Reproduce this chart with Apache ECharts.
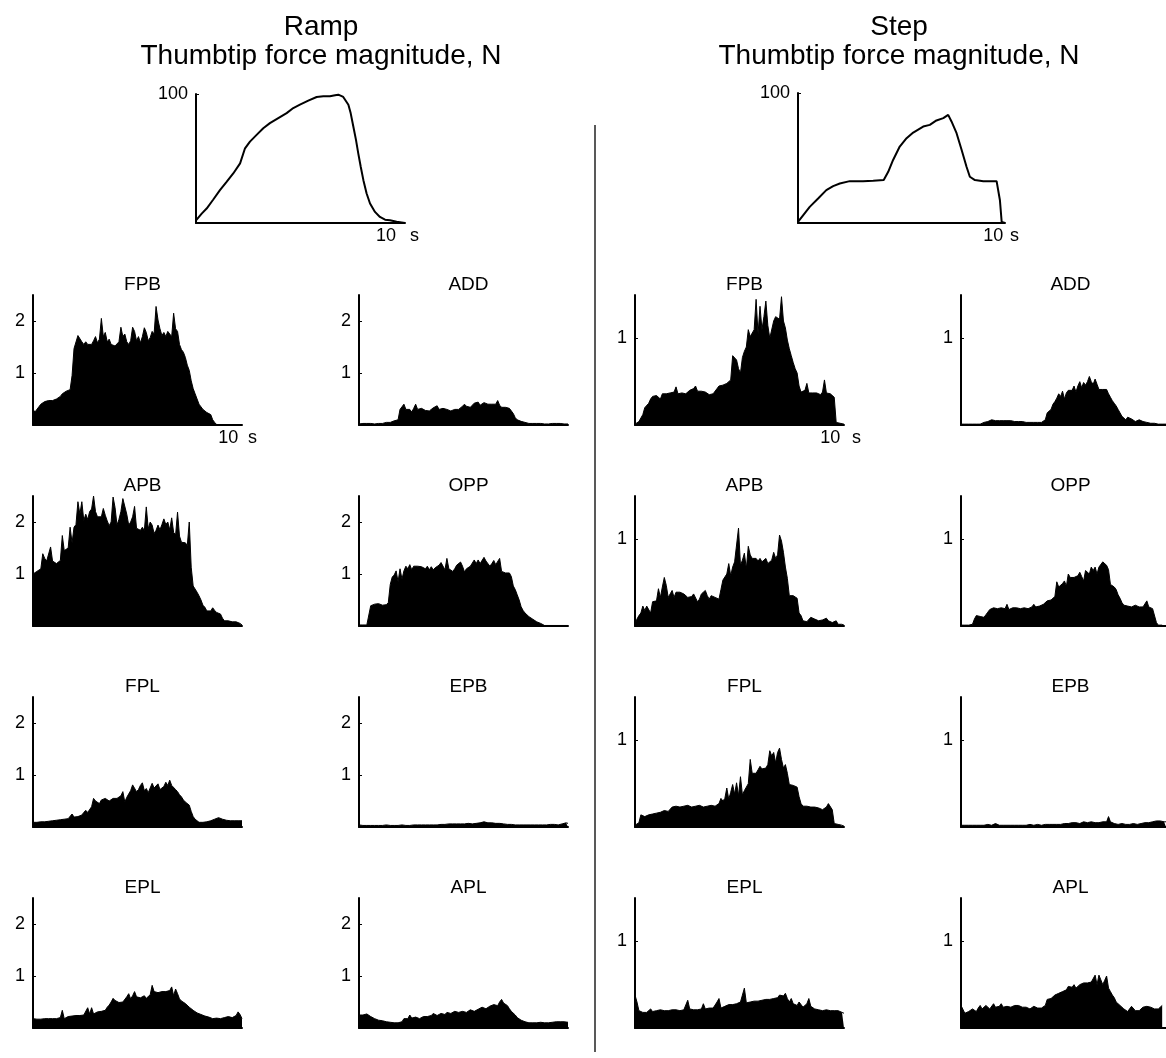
<!DOCTYPE html>
<html>
<head>
<meta charset="utf-8">
<script src="https://cdn.jsdelivr.net/npm/echarts@6/dist/echarts.min.js"></script>
<style>
  html, body { margin: 0; padding: 0; background: #fff; }
  #chart { width: 1166px; height: 1058px; }
</style>
</head>
<body>
<div id="chart"></div>
<script>
// sample step of the EMG traces, s
const DT = 0.1;

// thumbtip force, N (time in s)
const rampForceT = [0, 0.3, 0.56, 0.91, 1.26, 1.61, 1.96, 2.32, 2.58, 2.84, 3.19, 3.54, 3.89, 4.33, 4.77, 5.12, 5.47, 5.91, 6.35, 6.7, 7.05, 7.32, 7.49, 7.75, 8.02, 8.14, 8.28, 8.42, 8.54, 8.67, 8.81, 8.98, 9.16, 9.42, 9.68, 9.95, 10.21, 10.56, 11];
const rampForceN = [2.1, 7.3, 11.2, 18.2, 25.5, 31.9, 38.4, 46.2, 57.9, 63.1, 68.3, 73.5, 77.4, 81.3, 85.2, 89.1, 91.7, 94.8, 97.7, 98.2, 98.2, 99, 99.5, 97.7, 91.7, 85.2, 74.8, 64.4, 54, 43.6, 33.2, 22.9, 15.1, 8.6, 4.7, 2.6, 2.1, 1, 0];
const stepForceT = [0, 0.26, 0.6, 1.03, 1.45, 1.8, 2.14, 2.65, 3.33, 3.85, 4.39, 4.62, 4.87, 5.21, 5.56, 5.9, 6.41, 6.75, 7.09, 7.44, 7.69, 7.86, 8.12, 8.38, 8.63, 8.8, 9.06, 9.49, 10.17, 10.26, 10.34, 10.43, 10.6];
const stepForceN = [0.8, 5.9, 12.4, 18.8, 25.3, 28.4, 30.4, 32.2, 32.2, 32.5, 33, 39.4, 48.5, 58.8, 65.2, 69.6, 74.2, 75.5, 78.9, 80.7, 83.2, 78.1, 69.1, 56.2, 43.3, 35.6, 33, 32.2, 32.2, 30.9, 17.5, 0.8, 0];

// rectified EMG, one value every DT seconds from t = 0
const rampFPB = [
  0.3, 0.25, 0.28, 0.35, 0.4, 0.42, 0.45, 0.42, 0.47, 0.45,
  0.47, 0.45, 0.5, 0.48, 0.55, 0.6, 0.62, 0.65, 0.66, 0.68,
  0.95, 1.47, 1.5, 1.72, 1.7, 1.6, 1.55, 1.6, 1.55, 1.58,
  1.55, 1.62, 1.7, 1.58, 1.65, 2.05, 1.7, 1.78, 1.6, 1.65,
  1.55, 1.58, 1.52, 1.55, 1.6, 1.88, 1.7, 1.75, 1.6, 1.55,
  1.62, 1.88, 1.8, 1.62, 1.7, 1.58, 1.7, 1.87, 1.78, 1.62,
  1.68, 1.8, 1.75, 2.28, 2.02, 1.85, 1.72, 1.78, 1.7, 1.8,
  1.75, 1.7, 2.15, 1.85, 1.8, 1.55, 1.45, 1.4, 1.3, 1.15,
  1.05, 0.85, 0.7, 0.6, 0.5, 0.4, 0.38, 0.3, 0.28, 0.24,
  0.22, 0.2, 0.1, 0.05, 0.01
];
const rampADD = [
  0.02, 0.02, 0.03, 0.02, 0.03, 0.02, 0.03, 0.03, 0.02, 0.03,
  0.03, 0.04, 0.03, 0.04, 0.05, 0.04, 0.05, 0.06, 0.08, 0.07,
  0.1, 0.3, 0.35, 0.4, 0.3, 0.27, 0.3, 0.25, 0.32, 0.4,
  0.3, 0.27, 0.32, 0.3, 0.28, 0.3, 0.27, 0.3, 0.33, 0.3,
  0.37, 0.3, 0.28, 0.32, 0.35, 0.3, 0.33, 0.27, 0.28, 0.3,
  0.3, 0.3, 0.32, 0.36, 0.4, 0.36, 0.38, 0.34, 0.38, 0.42,
  0.4, 0.44, 0.38, 0.4, 0.43, 0.46, 0.4, 0.42, 0.4, 0.42,
  0.4, 0.47, 0.38, 0.34, 0.35, 0.34, 0.32, 0.32, 0.3, 0.22,
  0.14, 0.1, 0.08, 0.07, 0.06, 0.05, 0.04, 0.03, 0.03, 0.03,
  0.02, 0.03, 0.02, 0.03, 0.03, 0.02, 0.03, 0.02, 0.03, 0.03,
  0.02, 0.03, 0.02, 0.03, 0.03, 0.02, 0.03, 0.02
];
const rampAPB = [
  1.0, 1.03, 1.05, 1.08, 1.1, 1.39, 1.3, 1.25, 1.28, 1.52,
  1.25, 1.23, 1.2, 1.22, 1.26, 1.74, 1.45, 1.42, 1.5, 1.9,
  1.6, 1.9, 1.95, 2.39, 2.15, 2.39, 2.03, 2.15, 2.05, 2.2,
  2.25, 2.5, 2.2, 2.1, 2.13, 2.1, 2.26, 2.13, 2.02, 1.93,
  2.0, 2.48, 2.28, 1.94, 2.05, 2.2, 2.45, 2.48, 2.15, 1.94,
  2.0, 2.1, 2.3, 1.88, 1.9, 1.84, 1.9, 1.83, 2.29, 1.87,
  2.0, 1.94, 1.78, 1.84, 1.94, 1.85, 1.95, 2.06, 1.95, 2.0,
  1.85, 2.08, 1.8, 1.75, 2.19, 1.73, 1.61, 1.58, 1.6, 1.55,
  2.0, 1.13, 0.77, 0.75, 0.65, 0.58, 0.5, 0.4, 0.36, 0.29,
  0.3, 0.29, 0.35, 0.3, 0.26, 0.29, 0.23, 0.15, 0.1, 0.1,
  0.1, 0.09, 0.08, 0.06, 0.08, 0.06, 0.05, 0.02
];
const rampOPP = [
  0.02, 0.02, 0.02, 0.02, 0.02, 0.03, 0.39, 0.4, 0.42, 0.4,
  0.43, 0.41, 0.4, 0.42, 0.41, 0.45, 0.8, 0.94, 0.98, 1.06,
  0.85, 1.1, 0.9, 1.06, 1.15, 1.1, 1.18, 1.08, 1.15, 1.12,
  1.15, 1.17, 1.14, 1.13, 1.1, 1.15, 1.08, 1.14, 1.08, 1.12,
  1.15, 1.17, 1.22, 1.2, 1.08, 1.3, 1.1, 1.12, 1.05, 1.1,
  1.17, 1.2, 1.23, 1.15, 1.04, 1.1, 1.12, 1.15, 1.18, 1.27,
  1.2, 1.27, 1.2, 1.22, 1.32, 1.25, 1.23, 1.15, 1.2, 1.26,
  1.18, 1.15, 1.3, 1.05, 1.03, 1.02, 1.03, 1.02, 0.95, 0.77,
  0.7, 0.6, 0.5, 0.37, 0.3, 0.25, 0.23, 0.18, 0.15, 0.13,
  0.12, 0.08, 0.1, 0.05, 0.03, 0.01, 0.01, 0.01, 0.01, 0.01,
  0.01, 0.01, 0.01, 0.01, 0.01, 0.01, 0.01, 0.01
];
const rampFPL = [
  0.09, 0.08, 0.09, 0.09, 0.1, 0.09, 0.1, 0.1, 0.11, 0.11,
  0.12, 0.12, 0.13, 0.13, 0.14, 0.14, 0.15, 0.15, 0.16, 0.18,
  0.25, 0.19, 0.19, 0.2, 0.22, 0.23, 0.28, 0.32, 0.28, 0.3,
  0.39, 0.55, 0.5, 0.47, 0.45, 0.52, 0.5, 0.55, 0.52, 0.5,
  0.52, 0.55, 0.53, 0.55, 0.58, 0.6, 0.68, 0.48, 0.57, 0.6,
  0.7, 0.81, 0.84, 0.68, 0.72, 0.8, 0.85, 0.7, 0.74, 0.66,
  0.75, 0.84, 0.75, 0.78, 0.83, 0.72, 0.7, 0.78, 0.86, 0.8,
  0.9, 0.8, 0.77, 0.72, 0.68, 0.62, 0.58, 0.52, 0.48, 0.45,
  0.42, 0.3, 0.2, 0.15, 0.12, 0.09, 0.08, 0.09, 0.1, 0.1,
  0.1, 0.12, 0.13, 0.15, 0.16, 0.18, 0.18, 0.15, 0.14, 0.13,
  0.13, 0.12, 0.12, 0.12, 0.12, 0.12, 0.12, 0.12
];
const rampEPB = [
  0.04, 0.03, 0.03, 0.03, 0.03, 0.04, 0.03, 0.03, 0.03, 0.03,
  0.03, 0.03, 0.03, 0.03, 0.04, 0.03, 0.03, 0.03, 0.03, 0.03,
  0.03, 0.03, 0.04, 0.03, 0.03, 0.03, 0.03, 0.03, 0.04, 0.03,
  0.04, 0.04, 0.04, 0.04, 0.04, 0.05, 0.04, 0.04, 0.04, 0.04,
  0.04, 0.05, 0.05, 0.04, 0.05, 0.05, 0.06, 0.05, 0.06, 0.06,
  0.06, 0.06, 0.06, 0.07, 0.06, 0.06, 0.07, 0.06, 0.06, 0.07,
  0.07, 0.07, 0.08, 0.07, 0.1, 0.08, 0.08, 0.09, 0.08, 0.08,
  0.07, 0.08, 0.07, 0.06, 0.06, 0.06, 0.05, 0.05, 0.05, 0.05,
  0.04, 0.04, 0.04, 0.04, 0.04, 0.04, 0.04, 0.04, 0.04, 0.04,
  0.04, 0.04, 0.04, 0.04, 0.04, 0.05, 0.04, 0.04, 0.05, 0.04,
  0.05, 0.05, 0.04, 0.05, 0.06, 0.06, 0.08, 0.07
];
const rampEPL = [
  0.18, 0.17, 0.17, 0.18, 0.17, 0.19, 0.18, 0.17, 0.18, 0.17,
  0.18, 0.19, 0.18, 0.19, 0.2, 0.34, 0.18, 0.2, 0.22, 0.21,
  0.23, 0.22, 0.24, 0.25, 0.24, 0.26, 0.25, 0.28, 0.39, 0.27,
  0.39, 0.27, 0.3, 0.31, 0.3, 0.32, 0.33, 0.34, 0.4, 0.44,
  0.5, 0.57, 0.53, 0.5, 0.49, 0.47, 0.5, 0.52, 0.6, 0.66,
  0.56, 0.62, 0.7, 0.6, 0.63, 0.58, 0.6, 0.62, 0.57, 0.6,
  0.64, 0.82, 0.7, 0.69, 0.68, 0.7, 0.7, 0.71, 0.7, 0.69,
  0.72, 0.79, 0.62, 0.75, 0.66, 0.56, 0.52, 0.5, 0.47, 0.44,
  0.4, 0.37, 0.34, 0.31, 0.29, 0.28, 0.26, 0.25, 0.23, 0.2,
  0.21, 0.2, 0.18, 0.18, 0.19, 0.18, 0.18, 0.19, 0.2, 0.21,
  0.22, 0.24, 0.2, 0.18, 0.24, 0.31, 0.26, 0.18
];
const rampAPL = [
  0.25, 0.24, 0.25, 0.24, 0.27, 0.26, 0.22, 0.2, 0.18, 0.17,
  0.15, 0.14, 0.14, 0.13, 0.12, 0.11, 0.11, 0.1, 0.1, 0.1,
  0.1, 0.11, 0.12, 0.18, 0.15, 0.18, 0.25, 0.19, 0.2, 0.21,
  0.2, 0.18, 0.2, 0.22, 0.24, 0.22, 0.21, 0.24, 0.28, 0.25,
  0.24, 0.27, 0.28, 0.25, 0.26, 0.3, 0.31, 0.28, 0.29, 0.32,
  0.34, 0.3, 0.29, 0.32, 0.33, 0.3, 0.31, 0.35, 0.37, 0.32,
  0.33, 0.36, 0.38, 0.4, 0.39, 0.37, 0.4, 0.42, 0.44, 0.45,
  0.44, 0.43, 0.5, 0.55, 0.48, 0.46, 0.43, 0.37, 0.32, 0.3,
  0.25, 0.2, 0.17, 0.15, 0.13, 0.12, 0.11, 0.1, 0.1, 0.1,
  0.1, 0.1, 0.1, 0.11, 0.1, 0.1, 0.11, 0.1, 0.11, 0.11,
  0.12, 0.12, 0.11, 0.12, 0.12, 0.12, 0.13, 0.11
];

const stepFPB = [
  0.01, 0.02, 0.04, 0.06, 0.12, 0.2, 0.22, 0.25, 0.3, 0.33,
  0.32, 0.34, 0.33, 0.3, 0.36, 0.37, 0.36, 0.35, 0.37, 0.36,
  0.38, 0.44, 0.36, 0.38, 0.37, 0.39, 0.36, 0.38, 0.4, 0.38,
  0.42, 0.45, 0.39, 0.38, 0.39, 0.4, 0.38, 0.36, 0.35, 0.34,
  0.36, 0.38, 0.42, 0.45, 0.44, 0.46, 0.44, 0.48, 0.5, 0.52,
  0.8, 0.78, 0.75, 0.65, 0.6, 0.78, 0.85, 0.9, 1.1, 1.02,
  1.0, 1.1, 1.45, 1.05, 1.37, 1.1, 1.25, 1.43, 1.15, 1.0,
  1.02, 1.2, 1.25, 1.26, 1.22, 1.48, 1.2, 1.12, 0.98, 0.88,
  0.8, 0.72, 0.65, 0.6, 0.45, 0.38, 0.36, 0.4, 0.48, 0.37,
  0.36, 0.37, 0.35, 0.37, 0.36, 0.35, 0.38, 0.52, 0.37, 0.35,
  0.36, 0.34, 0.32, 0.03, 0.01, 0.02, 0.02, 0.01
];
const stepADD = [
  0.01, 0.01, 0.01, 0.01, 0.01, 0.01, 0.01, 0.01, 0.01, 0.01,
  0.01, 0.02, 0.03, 0.04, 0.04, 0.05, 0.06, 0.05, 0.05, 0.05,
  0.05, 0.04, 0.05, 0.05, 0.05, 0.04, 0.05, 0.04, 0.04, 0.04,
  0.04, 0.03, 0.04, 0.03, 0.03, 0.03, 0.03, 0.03, 0.03, 0.03,
  0.03, 0.03, 0.03, 0.04, 0.06, 0.14, 0.16, 0.18, 0.24, 0.27,
  0.31, 0.36, 0.33, 0.39, 0.3, 0.37, 0.4, 0.41, 0.4, 0.45,
  0.38, 0.45, 0.5, 0.43, 0.49, 0.46, 0.5, 0.56, 0.5, 0.47,
  0.53, 0.47, 0.41, 0.4, 0.41, 0.43, 0.41, 0.36, 0.32, 0.28,
  0.25, 0.22, 0.18, 0.14, 0.1, 0.08, 0.06, 0.09, 0.08, 0.07,
  0.05, 0.04, 0.05, 0.06, 0.07, 0.04, 0.04, 0.03, 0.03, 0.02,
  0.02, 0.02, 0.02, 0.01, 0.01, 0.01, 0.01, 0.01
];
const stepAPB = [
  0.02, 0.08, 0.12, 0.15, 0.23, 0.18, 0.23, 0.25, 0.15, 0.28,
  0.3, 0.29, 0.43, 0.33, 0.45, 0.56, 0.47, 0.33, 0.37, 0.41,
  0.33, 0.39, 0.41, 0.39, 0.41, 0.37, 0.35, 0.33, 0.35, 0.34,
  0.37, 0.39, 0.28, 0.31, 0.37, 0.39, 0.41, 0.35, 0.31, 0.35,
  0.37, 0.33, 0.32, 0.31, 0.42, 0.53, 0.51, 0.6, 0.72, 0.58,
  0.68, 0.74, 0.76, 1.13, 0.7, 0.76, 0.84, 0.66, 0.92, 0.82,
  0.78, 0.77, 0.78, 0.75, 0.78, 0.74, 0.72, 0.78, 0.72, 0.7,
  0.76, 0.85, 0.78, 0.82, 1.05, 0.98, 0.85, 0.68, 0.55, 0.35,
  0.35, 0.35, 0.34, 0.32, 0.15, 0.12, 0.06, 0.04, 0.05, 0.07,
  0.1, 0.08, 0.08, 0.07, 0.06, 0.08, 0.07, 0.08, 0.09, 0.06,
  0.05, 0.04, 0.06, 0.06, 0.02, 0.03, 0.02, 0.01
];
const stepOPP = [
  0.01, 0.01, 0.01, 0.01, 0.01, 0.01, 0.02, 0.08, 0.12, 0.1,
  0.11, 0.11, 0.1, 0.13, 0.16, 0.19, 0.2, 0.21, 0.22, 0.2,
  0.19, 0.21, 0.21, 0.2, 0.25, 0.19, 0.2, 0.21, 0.22, 0.21,
  0.21, 0.2, 0.2, 0.21, 0.21, 0.2, 0.21, 0.22, 0.25, 0.22,
  0.24, 0.23, 0.23, 0.25, 0.27, 0.29, 0.29, 0.3, 0.32, 0.34,
  0.51, 0.45, 0.43, 0.49, 0.52, 0.46, 0.6, 0.56, 0.56, 0.56,
  0.55, 0.58, 0.62, 0.57, 0.52, 0.64, 0.65, 0.6, 0.68, 0.64,
  0.68, 0.6, 0.68, 0.66, 0.74, 0.72, 0.7, 0.65, 0.48, 0.47,
  0.45, 0.42, 0.36, 0.32, 0.27, 0.24, 0.22, 0.23, 0.24, 0.22,
  0.23, 0.24, 0.22, 0.22, 0.24, 0.22, 0.23, 0.29, 0.22, 0.21,
  0.2, 0.19, 0.04, 0.01, 0.01, 0.01
];
const stepFPL = [
  0.02, 0.02, 0.05, 0.14, 0.13, 0.12, 0.13, 0.14, 0.13, 0.15,
  0.16, 0.16, 0.15, 0.17, 0.18, 0.19, 0.18, 0.18, 0.2, 0.23,
  0.24, 0.24, 0.23, 0.23, 0.25, 0.24, 0.23, 0.25, 0.24, 0.23,
  0.24, 0.24, 0.25, 0.25, 0.24, 0.23, 0.25, 0.24, 0.23, 0.25,
  0.24, 0.24, 0.25, 0.27, 0.33, 0.3, 0.33, 0.45, 0.32, 0.4,
  0.49, 0.38, 0.51, 0.36, 0.58, 0.37, 0.42, 0.46, 0.5, 0.78,
  0.62, 0.64, 0.62, 0.66, 0.7, 0.67, 0.66, 0.68, 0.72, 0.88,
  0.82, 0.86, 0.74, 0.86, 0.91, 0.78, 0.68, 0.72, 0.62, 0.49,
  0.49, 0.48, 0.47, 0.46, 0.35, 0.27, 0.24, 0.25, 0.24, 0.24,
  0.23, 0.22, 0.23, 0.21, 0.22, 0.22, 0.2, 0.19, 0.23, 0.27,
  0.25, 0.2, 0.04, 0.03, 0.03, 0.02, 0.02, 0.01
];
const stepEPB = [
  0.02, 0.02, 0.02, 0.02, 0.02, 0.02, 0.02, 0.02, 0.02, 0.02,
  0.02, 0.02, 0.02, 0.02, 0.03, 0.02, 0.02, 0.02, 0.04, 0.02,
  0.02, 0.02, 0.02, 0.02, 0.02, 0.02, 0.02, 0.02, 0.02, 0.03,
  0.02, 0.02, 0.02, 0.03, 0.02, 0.02, 0.03, 0.03, 0.02, 0.03,
  0.03, 0.03, 0.02, 0.03, 0.03, 0.03, 0.03, 0.04, 0.03, 0.03,
  0.03, 0.04, 0.03, 0.04, 0.04, 0.05, 0.04, 0.05, 0.05, 0.04,
  0.05, 0.05, 0.04, 0.05, 0.06, 0.05, 0.05, 0.05, 0.06, 0.05,
  0.05, 0.06, 0.05, 0.06, 0.06, 0.07, 0.06, 0.12, 0.06, 0.04,
  0.04, 0.03, 0.03, 0.03, 0.04, 0.03, 0.03, 0.04, 0.03, 0.03,
  0.04, 0.04, 0.03, 0.04, 0.04, 0.05, 0.05, 0.04, 0.05, 0.05,
  0.06, 0.06, 0.07, 0.08, 0.07, 0.07, 0.06, 0.06
];
const stepEPL = [
  0.38, 0.3, 0.2, 0.19, 0.18, 0.17, 0.18, 0.19, 0.22, 0.19,
  0.19, 0.2, 0.2, 0.21, 0.2, 0.2, 0.21, 0.2, 0.2, 0.21,
  0.22, 0.21, 0.21, 0.2, 0.2, 0.21, 0.23, 0.32, 0.22, 0.21,
  0.21, 0.22, 0.21, 0.22, 0.22, 0.28, 0.22, 0.22, 0.23, 0.21,
  0.23, 0.25, 0.3, 0.34, 0.23, 0.24, 0.25, 0.26, 0.27, 0.26,
  0.27, 0.28, 0.28, 0.29, 0.3, 0.38, 0.46, 0.29, 0.3, 0.3,
  0.3, 0.31, 0.3, 0.31, 0.32, 0.32, 0.32, 0.33, 0.34, 0.33,
  0.34, 0.34, 0.36, 0.35, 0.38, 0.38, 0.37, 0.4, 0.34, 0.3,
  0.34, 0.28, 0.27, 0.26, 0.3, 0.32, 0.24, 0.22, 0.28, 0.34,
  0.25, 0.23, 0.22, 0.22, 0.21, 0.21, 0.2, 0.2, 0.21, 0.2,
  0.2, 0.2, 0.2, 0.2, 0.2, 0.19, 0.18, 0.17
];
const stepAPL = [
  0.26, 0.25, 0.17, 0.19, 0.19, 0.2, 0.22, 0.2, 0.19, 0.23,
  0.26, 0.22, 0.21, 0.26, 0.28, 0.22, 0.23, 0.28, 0.24, 0.22,
  0.25, 0.28, 0.24, 0.22, 0.25, 0.26, 0.24, 0.24, 0.26, 0.28,
  0.26, 0.25, 0.24, 0.24, 0.24, 0.23, 0.22, 0.24, 0.25, 0.24,
  0.23, 0.23, 0.23, 0.25, 0.26, 0.33, 0.35, 0.34, 0.36, 0.38,
  0.38, 0.4, 0.4, 0.42, 0.43, 0.44, 0.48, 0.46, 0.47, 0.5,
  0.46, 0.48, 0.5, 0.51, 0.52, 0.53, 0.52, 0.51, 0.53, 0.52,
  0.61, 0.5, 0.61, 0.63, 0.5, 0.55, 0.6, 0.46, 0.42, 0.38,
  0.35, 0.3, 0.28, 0.26, 0.24, 0.22, 0.22, 0.19, 0.2, 0.25,
  0.24, 0.2, 0.19, 0.2, 0.22, 0.24, 0.26, 0.25, 0.24, 0.24,
  0.24, 0.22, 0.2, 0.22, 0.24, 0.26
];

const muscleRows = [['FPB', 'ADD'], ['APB', 'OPP'], ['FPL', 'EPB'], ['EPL', 'APL']];
const rampEMG = { FPB: rampFPB, ADD: rampADD, APB: rampAPB, OPP: rampOPP, FPL: rampFPL, EPB: rampEPB, EPL: rampEPL, APL: rampAPL };
const stepEMG = { FPB: stepFPB, ADD: stepADD, APB: stepAPB, OPP: stepOPP, FPL: stepFPL, EPB: stepEPB, EPL: stepEPL, APL: stepAPL };

// y tick labels shown on each kind of panel
const forceTicks = [100];
const rampTicks = [1, 2];
const stepTicks = [1];

const FONT = "'Liberation Sans', Arial, Helvetica, sans-serif";
const colLeft = [33, 359, 635, 961];
const rowTop = [295, 496, 697, 898];
const PW = 209, PH = 130;

const chart = echarts.init(document.getElementById('chart'));

const grid = [], xAxis = [], yAxis = [], series = [], title = [];

function addPanel(box, xMax, yMax, yTicks, showTen, sGap, lineData, filled) {
  const gi = grid.length;
  grid.push({ left: box.left, top: box.top, width: box.width, height: box.height, containLabel: false });
  xAxis.push({
    type: 'value', gridIndex: gi, min: 0, max: xMax, interval: 10,
    axisLine: { show: true, onZero: false, lineStyle: { color: '#000', width: 2 } },
    axisTick: { show: false }, splitLine: { show: false },
    axisLabel: {
      show: showTen, color: '#000', fontSize: 18, fontFamily: FONT, margin: 4,
      customValues: [10], formatter: v => (v === 10 ? '10' : '')
    },
    name: showTen ? 's' : '', nameLocation: 'end', nameGap: sGap,
    nameTextStyle: { color: '#000', fontSize: 18, fontFamily: FONT, verticalAlign: 'top', padding: [4, 0, 0, 0] }
  });
  yAxis.push({
    type: 'value', gridIndex: gi, min: 0, max: yMax,
    axisLine: { show: true, onZero: false, lineStyle: { color: '#000', width: 2 } },
    axisTick: { show: true, inside: true, length: 3, customValues: yTicks, lineStyle: { color: '#000', width: 1 } },
    splitLine: { show: false },
    axisLabel: {
      color: '#000', fontSize: 18, fontFamily: FONT, margin: 8,
      customValues: yTicks, formatter: v => String(v)
    }
  });
  const s = {
    type: 'line', xAxisIndex: gi, yAxisIndex: gi, data: lineData,
    symbol: 'none', silent: true, animation: false,
    lineStyle: { color: '#000', width: filled ? 1 : 2 }
  };
  if (filled) s.areaStyle = { color: '#000', opacity: 1 };
  series.push(s);
}

// force panels
addPanel({ left: 196, top: 94, width: 209, height: 129 }, 11, 100, forceTicks, true, 5,
  rampForceT.map((t, i) => [t, rampForceN[i]]), false);
addPanel({ left: 798, top: 93, width: 207, height: 130 }, 10.6, 100, forceTicks, true, 5,
  stepForceT.map((t, i) => [t, stepForceN[i]]), false);

const mainStyle = { color: '#000', fontSize: 28, fontWeight: 'normal', fontFamily: FONT, lineHeight: 29 };
title.push({ text: 'Ramp\nThumbtip force magnitude, N', left: 316, top: 8, textAlign: 'center', textStyle: mainStyle });
title.push({ text: 'Step\nThumbtip force magnitude, N', left: 894, top: 8, textAlign: 'center', textStyle: mainStyle });

// EMG panels
muscleRows.forEach((pair, r) => {
  pair.forEach((name, c) => {
    [[rampEMG, 0, 2.5, rampTicks], [stepEMG, 2, 1.5, stepTicks]].forEach(([set, colOff, yMax, ticks]) => {
      const col = colOff + c;
      const vals = set[name];
      addPanel({ left: colLeft[col], top: rowTop[r], width: PW, height: PH }, 10.7, yMax, ticks,
        r === 0 && c === 0, colOff === 0 ? 6 : 8,
        vals.map((v, i) => [Math.round(i * DT * 10) / 10, v]), true);
      title.push({
        text: name, left: colLeft[col] + PW / 2, top: rowTop[r] - 25, textAlign: 'center',
        textStyle: { color: '#000', fontSize: 19, fontWeight: 'normal', fontFamily: FONT }
      });
    });
  });
});

chart.setOption({
  backgroundColor: '#fff',
  animation: false,
  title, grid, xAxis, yAxis, series,
  graphic: [{
    type: 'line', shape: { x1: 595, y1: 125, x2: 595, y2: 1052 },
    style: { stroke: '#222', lineWidth: 1.5 }
  }]
});
</script>
</body>
</html>
